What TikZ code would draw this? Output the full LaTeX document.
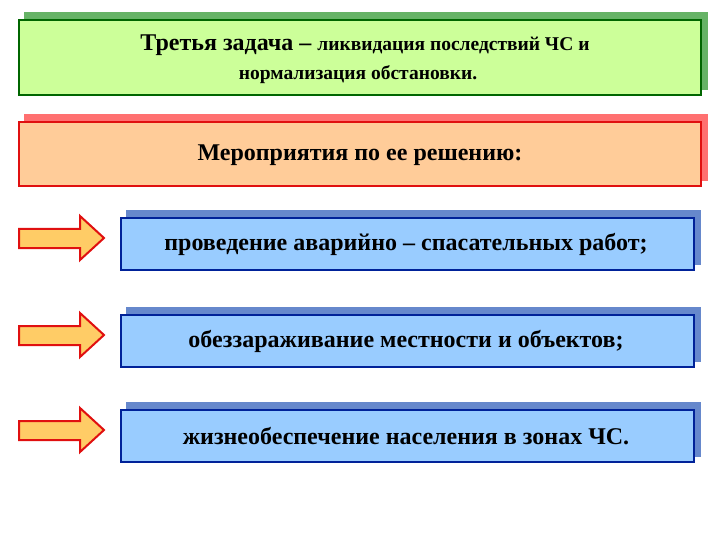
\documentclass[tikz,border=0pt]{standalone}
\usepackage{fontspec}
\setmainfont{Liberation Serif}
\definecolor{gfill}{HTML}{CCFF99}
\definecolor{gline}{HTML}{006600}
\definecolor{gsh}{HTML}{66B366}
\definecolor{ofill}{HTML}{FFCC99}
\definecolor{rline}{HTML}{E01010}
\definecolor{rsh}{HTML}{FF7070}
\definecolor{bfill}{HTML}{99CCFF}
\definecolor{bline}{HTML}{002299}
\definecolor{bsh}{HTML}{6688CC}
\definecolor{afill}{HTML}{FFCC66}
\begin{document}
\begin{tikzpicture}[x=1pt,y=-1pt,
  sh/.style={line width=1.5pt},
  mainbox/.style={line width=2.5pt},
  txt/.style={font=\bfseries\fontsize{24}{27}\selectfont, align=center},
  arr/.style={draw=rline, fill=afill, line width=2pt, line join=miter}]
\useasboundingbox (0,0) rectangle (720,540);
% green
\draw[sh, draw=gsh, fill=gsh] (25,13) rectangle (707,89);
\draw[mainbox, draw=gline, fill=gfill] (19,20) rectangle (701,95);
\node[txt] (t1) at (365,45) {Третья задача – {\fontsize{19.5}{22}\selectfont ликвидация последствий ЧС и}};
\node[txt, font=\bfseries\fontsize{19.5}{22}\selectfont] (t1b) at (358,75) {нормализация обстановки.};
% red
\draw[sh, draw=rsh, fill=rsh] (25,115) rectangle (707,180);
\draw[mainbox, draw=rline, fill=ofill] (19,122) rectangle (701,186);
\node[txt] (t2) at (360,155) {Мероприятия по ее решению:};
% blue boxes and arrows
\foreach \y/\t/\n in {218/{проведение аварийно – спасательных работ;}/a, 315/{обеззараживание местности и объектов;}/b, 410/{жизнеобеспечение населения в зонах ЧС.}/c}{
  \draw[sh, draw=bsh, fill=bsh] (127,\y-7) rectangle (700,\y+46);
  \draw[mainbox, draw=bline, fill=bfill] (121,\y) rectangle (694,\y+52);
  \node[txt] (\n) at (406,\y+26) {\t};
  \draw[arr] (19,\y+11) -- (80,\y+11) -- (80,\y-2) -- (104,\y+20) -- (80,\y+42) -- (80,\y+30) -- (19,\y+30) -- cycle;
}
\end{tikzpicture}
\end{document}
